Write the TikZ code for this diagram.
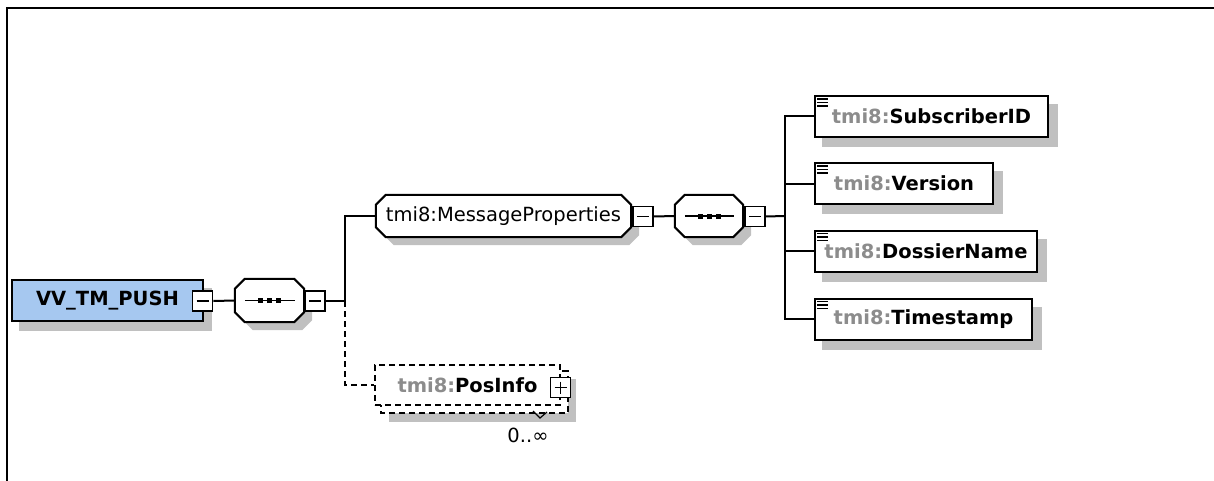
\documentclass[tikz,border=0pt]{standalone}
\usepackage{fontspec}
\setmainfont{DejaVu Sans}
\usetikzlibrary{calc}
\pgfdeclarelayer{bg}
\pgfsetlayers{bg,main}
\definecolor{shadowgray}{RGB}{192,192,192}
\definecolor{rootblue}{RGB}{166,200,240}
\definecolor{prefixgray}{RGB}{140,140,140}
\tikzset{
  conn/.style={line width=2pt},
  dashconn/.style={line width=1.8pt, dash pattern=on 6pt off 4pt},
  txt/.style={font=\fontsize{19.5}{23}\selectfont},
  btxt/.style={font=\fontsize{19.5}{23}\selectfont\bfseries},
  rootbox/.style={draw=black, line width=2pt, fill=rootblue, inner sep=0pt,
    minimum width=191pt, minimum height=41pt, btxt},
  elembox/.style={draw=black, line width=2pt, fill=white, inner sep=0pt,
    minimum height=41pt, btxt},
  optbox/.style={draw=black, line width=1.8pt, dash pattern=on 6pt off 4pt, fill=white,
    inner sep=0pt, minimum width=185pt, minimum height=40pt, btxt},
  comp/.style={draw=none, inner sep=0pt, minimum height=42pt},
  minusbox/.style={draw=black, fill=white, line width=1.8pt, minimum size=20pt, inner sep=0pt,
    path picture={\draw[line width=1.5pt]
      ($(path picture bounding box.west)+(4pt,0pt)$) -- ($(path picture bounding box.east)+(-4pt,0pt)$);}},
  plusbox/.style={draw=black, fill=white, line width=1.8pt, minimum size=20pt, inner sep=0pt,
    path picture={\draw[line width=1.5pt]
      ($(path picture bounding box.west)+(4pt,0pt)$) -- ($(path picture bounding box.east)+(-4pt,0pt)$)
      ($(path picture bounding box.north)+(0pt,-4pt)$) -- ($(path picture bounding box.south)+(0pt,4pt)$);}},
  oct/.style n args={4}{insert path={
    ($(#1.north west)+(#2+#4,#3)$) -- ($(#1.north east)+(#2-#4,#3)$) --
    ($(#1.north east)+(#2,#3+#4)$) -- ($(#1.south east)+(#2,#3-#4)$) --
    ($(#1.south east)+(#2-#4,#3)$) -- ($(#1.south west)+(#2+#4,#3)$) --
    ($(#1.south west)+(#2,#3-#4)$) -- ($(#1.north west)+(#2,#3+#4)$) -- cycle}},
}
\newcommand\pfx{\textcolor{prefixgray}{tmi8:}}
\begin{document}
\begin{tikzpicture}[x=1pt,y=-1pt]
\useasboundingbox (0,0) rectangle (1214,481);
% frame
\draw[line width=2.2pt] (7,481) -- (7,8) -- (1214,8);

% nodes
\node[rootbox] (root) at (107.5,300.5) {VV\_TM\_PUSH};
\node[minusbox] (rootm) at (202.5,301) {};
\node[comp, minimum width=69pt, minimum height=43pt] (seq1) at (269.5,300.5) {};
\node[minusbox] (seq1m) at (315,301) {};
\coordinate (j1) at (345,301);

\node[comp, minimum width=255pt, txt] (mp) at (503.5,216) {tmi8:MessageProperties};
\node[minusbox] (mpm) at (643,216.5) {};
\node[comp, minimum width=68pt] (seq2) at (709,216) {};
\node[minusbox] (seq2m) at (755,216.5) {};
\coordinate (j2) at (785,216);

\node[elembox, minimum width=233pt] (c1) at (931.5,116.5) {\pfx SubscriberID};
\node[elembox, minimum width=178pt] (c2) at (904,183.5) {\pfx Version};
\node[elembox, minimum width=222pt] (c3) at (926,251) {\pfx DossierName};
\node[elembox, minimum width=217pt] (c4) at (923.5,319) {\pfx Timestamp};

\node[optbox] (pos) at (467.5,385) {\pfx PosInfo};
\node[plusbox] (posp) at (560.5,387.5) {};
\node[txt, inner sep=0pt] (card) at (528,435) {0..∞};

% background: shadows and shapes
\begin{pgfonlayer}{bg}
  \fill[shadowgray] ($(root.north west)+(8,9)$) rectangle ($(root.south east)+(8,9)$);
  \fill[shadowgray, oct={seq1}{8}{8}{10}];
  \fill[shadowgray, oct={mp}{8}{8}{10}];
  \fill[shadowgray, oct={seq2}{8}{8}{10}];
  \foreach \c in {c1,c2,c3,c4}
    \fill[shadowgray] ($(\c.north west)+(8,9)$) rectangle ($(\c.south east)+(9,9)$);
  \fill[shadowgray] ($(pos.north west)+(15,15)$) rectangle ($(pos.south east)+(15,16)$);
  \draw[line width=1.8pt, dash pattern=on 6pt off 4pt, fill=white]
    ($(pos.north west)+(7,7)$) rectangle ($(pos.south east)+(7,7)$);
  \draw[line width=2pt, fill=white, oct={seq1}{0}{0}{10}];
  \draw[line width=2pt, fill=white, oct={mp}{0}{0}{10}];
  \draw[line width=2pt, fill=white, oct={seq2}{0}{0}{10}];
\end{pgfonlayer}

% compositor symbols
\foreach \s in {seq1,seq2}{
  \draw[line width=1.8pt] ($(\s.west)+(10,0)$) -- ($(\s.east)+(-9,0)$);
  \foreach \dx in {-9,0,9}
    \fill ($(\s.center)+(\dx-2.5,-2.5)$) rectangle ++(5,5);
}

% element icons
\foreach \c in {c1,c2,c3,c4}
  \foreach \dy in {4,7.5,11}
    \draw[line width=1.2pt] ($(\c.north west)+(3,\dy)$) -- ++(11,0);

% cardinality notch
\draw[line width=1.2pt] (533,411) -- (540,418) -- (547,412);

% connectors
\draw[conn] (rootm.east) -- (seq1.west);
\draw[conn] (seq1m.east) -- (j1);
\draw[conn] (j1) |- (mp.west);
\draw[dashconn] (j1) |- (pos.west);
\draw[conn] (mpm.east) -- (seq2.west);
\draw[conn] (seq2m.east) -- (j2);
\draw[conn] (j2) |- (c1.west);
\draw[conn] (j2) |- (c2.west);
\draw[conn] (j2) |- (c3.west);
\draw[conn] (j2) |- (c4.west);
\end{tikzpicture}
\end{document}
